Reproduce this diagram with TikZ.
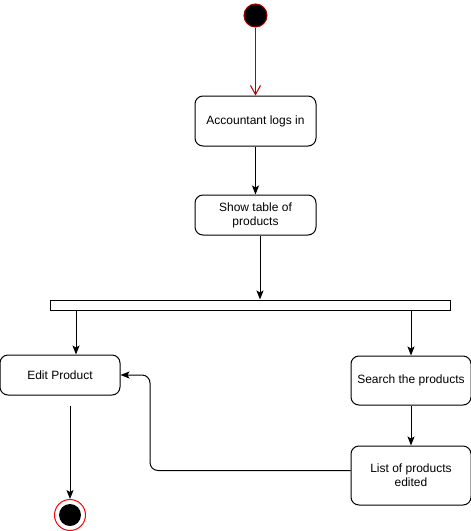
\documentclass[tikz,border=0pt]{standalone}
\usepackage{fontspec}
\setmainfont{Liberation Sans}
\usetikzlibrary{arrows.meta}
\begin{document}
\begin{tikzpicture}[
    x=1pt, y=-1pt,
    font=\fontsize{12}{14}\selectfont,
    activity/.style={rectangle, rounded corners=8pt, draw=black, fill=white, line width=1pt, align=center, inner sep=2pt},
    startdot/.style={circle, draw=red!60!black, fill=black, minimum size=23pt, inner sep=0pt, line width=1pt},
    enddot/.style={circle, draw=red, fill=white, minimum size=31pt, inner sep=0pt, line width=1pt},
    forkbar/.style={rectangle, draw=black, fill=white, minimum width=400pt, minimum height=10pt, inner sep=0pt, line width=1pt},
    flow/.style={-{Stealth[length=9pt, width=7pt, inset=2pt]}, line width=1pt},
    firstflow/.style={-{Straight Barb[length=9pt, width=10pt]}, line width=1pt, red!70!black}
]
\useasboundingbox (0,0) rectangle (471,531);

% Start and end
\node[startdot] (start) at (255.5,15.5) {};
\node[enddot] (endo) at (70,515) {};
\node[circle, fill=black, minimum size=22pt, inner sep=0pt] (endi) at (endo) {};

% Activities
\node[activity, minimum width=121pt, minimum height=50pt] (login) at (255.5,121) {Accountant logs in};
\node[activity, minimum width=121pt, minimum height=40pt] (table) at (255.5,215) {Show table of\\products};
\node[forkbar] (bar) at (250,305) {};
\node[activity, minimum width=120pt, minimum height=40pt] (edit) at (60,375) {Edit Product};
\node[activity, minimum width=120pt, minimum height=49pt] (search) at (411,380.5) {Search the products};
\node[activity, minimum width=120pt, minimum height=59pt] (list) at (411,475.5) {List of products\\edited};

\coordinate (forkl) at (76,310);

% Flows
\draw[firstflow] (start) -- (login);
\draw[flow] (login) -- (table);
\draw[flow] ([xshift=4.5pt]table.south) -- ([xshift=4.5pt]table.south |- bar.north);
\draw[flow] (forkl) -- (forkl |- edit.north);
\draw[flow] (bar.south -| search.north) -- (search.north);
\draw[flow] (search) -- (list);
\draw[flow, rounded corners=8pt] ([yshift=5pt]list.west) -- (150,470.5) -- (150,375) -- (edit.east);
\draw[flow] ([xshift=10pt, yshift=-10pt]edit.south) -- (endo.north);

\end{tikzpicture}
\end{document}
